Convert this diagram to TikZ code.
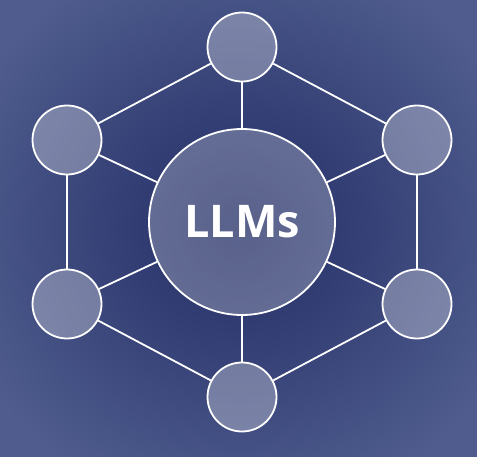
\documentclass[tikz,border=0pt]{standalone}
\usepackage{fontspec}
\setmainfont{Open Sans}
\begin{document}
\begin{tikzpicture}[x=1pt,y=-1pt,
  hub/.style={circle,draw=white,line width=1.8pt,fill=white,fill opacity=0.25,text opacity=1,minimum size=186pt,inner sep=0pt},
  sat/.style={circle,draw=white,line width=1.8pt,fill=white,fill opacity=0.3,minimum size=69pt,inner sep=0pt},
  link/.style={draw=white,line width=1.8pt}]
\definecolor{bgin}{HTML}{222D65}
\definecolor{bgout}{HTML}{4F5C8D}
\useasboundingbox (0,0) rectangle (477,456);
\shade[inner color=bgin,outer color=bgout] (-60,-60) rectangle (537,516);
\node[hub] (c) at (242,222) {};
\node[text=white,font=\bfseries\fontsize{45}{50}\selectfont] (t) at (242,222) {LLMs};
\node[sat] (n1) at (242,47) {};
\node[sat] (n2) at (67,140) {};
\node[sat] (n3) at (417,140) {};
\node[sat] (n4) at (67,304) {};
\node[sat] (n5) at (417,304) {};
\node[sat] (n6) at (242,397) {};
\foreach \a/\b in {n1/n2,n1/n3,n2/n4,n3/n5,n4/n6,n5/n6,c/n1,c/n2,c/n3,c/n4,c/n5,c/n6}
  \draw[link] (\a) -- (\b);
\end{tikzpicture}
\end{document}
